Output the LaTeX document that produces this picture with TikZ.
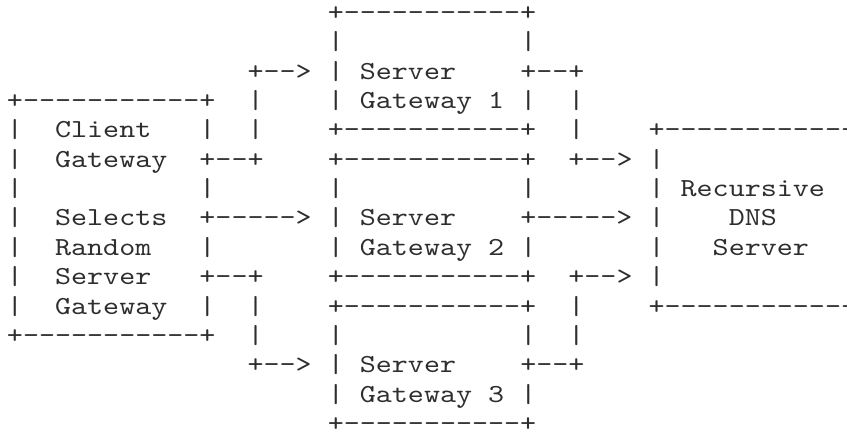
\documentclass[tikz,border=0pt]{standalone}
\usepackage{fontspec}
% typewriter face, widened so that one character is 16.04pt wide
\setmonofont{lmmono10-regular.otf}[FakeStretch=1.175]
\definecolor{ink}{gray}{0.18}
\tikzset{
  ascii/.style={anchor=base west, inner sep=0pt, outer sep=0pt,
    font=\ttfamily\fontsize{26pt}{29.34pt}\selectfont, text=ink}
}
% \cell{row}{column}{text}: one run of characters on the grid
% (16.04pt per column, 29.34pt per row)
\newcommand\cell[3]{%
  \node[ascii] (r#1c#2) at ({6.98pt+#2*16.04pt}, {-14pt-(#1-1)*29.34pt-6.6pt}) {#3};}
\begin{document}
\begin{tikzpicture}
\useasboundingbox (0,0) rectangle (847pt,-433pt);
\clip (0,0) rectangle (847pt,-433pt);
% row 1
\cell{1}{20}{+-----------+}
% row 2
\cell{2}{20}{|}\cell{2}{32}{|}
% row 3
\cell{3}{15}{+-->}\cell{3}{20}{|}\cell{3}{22}{Server}\cell{3}{32}{+--+}
% row 4
\cell{4}{0}{+-----------+}\cell{4}{15}{|}\cell{4}{20}{|}\cell{4}{22}{Gateway}
\cell{4}{30}{1}\cell{4}{32}{|}\cell{4}{35}{|}
% row 5
\cell{5}{0}{|}\cell{5}{3}{Client}\cell{5}{12}{|}\cell{5}{15}{|}
\cell{5}{20}{+-----------+}\cell{5}{35}{|}\cell{5}{40}{+------------}
% row 6
\cell{6}{0}{|}\cell{6}{3}{Gateway}\cell{6}{12}{+--+}
\cell{6}{20}{+-----------+}\cell{6}{35}{+-->}\cell{6}{40}{|}
% row 7
\cell{7}{0}{|}\cell{7}{12}{|}\cell{7}{20}{|}\cell{7}{32}{|}
\cell{7}{40}{|}\cell{7}{42}{Recursive}
% row 8
\cell{8}{0}{|}\cell{8}{3}{Selects}\cell{8}{12}{+----->}\cell{8}{20}{|}\cell{8}{22}{Server}
\cell{8}{32}{+----->}\cell{8}{40}{|}\cell{8}{45}{DNS}
% row 9
\cell{9}{0}{|}\cell{9}{3}{Random}\cell{9}{12}{|}\cell{9}{20}{|}\cell{9}{22}{Gateway}
\cell{9}{30}{2}\cell{9}{32}{|}\cell{9}{40}{|}\cell{9}{44}{Server}
% row 10
\cell{10}{0}{|}\cell{10}{3}{Server}\cell{10}{12}{+--+}
\cell{10}{20}{+-----------+}\cell{10}{35}{+-->}\cell{10}{40}{|}
% row 11
\cell{11}{0}{|}\cell{11}{3}{Gateway}\cell{11}{12}{|}\cell{11}{15}{|}
\cell{11}{20}{+-----------+}\cell{11}{35}{|}\cell{11}{40}{+------------}
% row 12
\cell{12}{0}{+-----------+}\cell{12}{15}{|}\cell{12}{20}{|}\cell{12}{32}{|}\cell{12}{35}{|}
% row 13
\cell{13}{15}{+-->}\cell{13}{20}{|}\cell{13}{22}{Server}\cell{13}{32}{+--+}
% row 14
\cell{14}{20}{|}\cell{14}{22}{Gateway}\cell{14}{30}{3}\cell{14}{32}{|}
% row 15
\cell{15}{20}{+-----------+}
\end{tikzpicture}
\end{document}
